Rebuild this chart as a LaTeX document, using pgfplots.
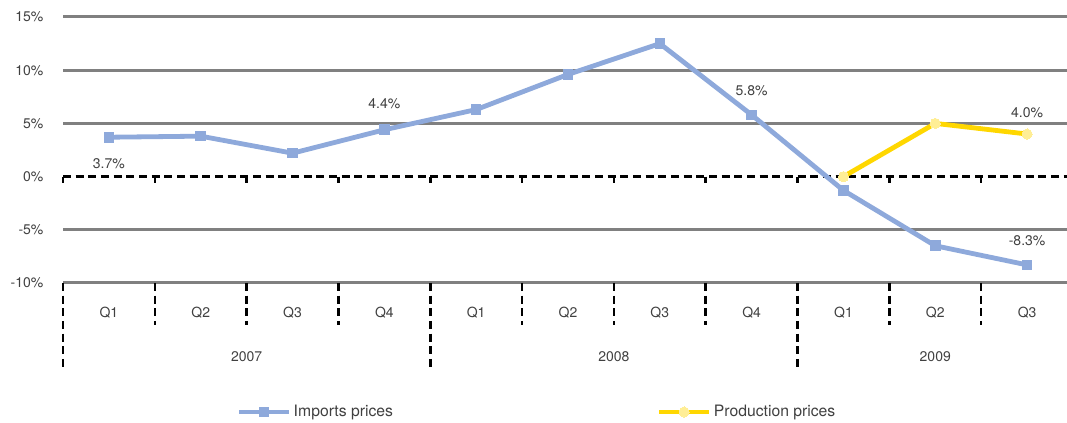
\documentclass[border=0pt]{standalone}
\usepackage{pgfplots}
\pgfplotsset{compat=1.18}
\usepackage{fontspec}
\setmainfont{TeX Gyre Heros}
\definecolor{impblue}{RGB}{142,169,219}
\definecolor{prodyel}{RGB}{255,215,0}
\definecolor{prodmark}{RGB}{255,238,150}
\definecolor{txt}{RGB}{64,64,64}
\definecolor{gridg}{RGB}{128,128,128}
\begin{document}
\fontsize{10.5}{12.6}\selectfont
\begin{tikzpicture}
\useasboundingbox (0,0) rectangle (800.25pt,317.25pt);
\begin{axis}[
  at={(47.25pt,105pt)}, anchor=south west,
  scale only axis, width=757.5pt, height=199.5pt,
  xmin=0, xmax=11, ymin=-10, ymax=15,
  clip=false,
  axis line style={draw=none},
  major tick length=0pt,
  ytick={-10,-5,0,5,10,15},
  yticklabel={\pgfmathprintnumber[assume math mode=true]{\tick}\%},
  yticklabel style={text=txt, xshift=-11pt},
  ymajorgrids,
  grid style={gridg, line width=2.25pt},
  xtick={0.5,1.5,...,10.5},
  xticklabels={Q1,Q2,Q3,Q4,Q1,Q2,Q3,Q4,Q1,Q2,Q3},
  xticklabel style={text=txt, anchor=center, yshift=-22.5pt},
  legend columns=2,
  legend cell align=left,
  legend style={at={(0.168,-0.485)}, anchor=west, draw=none, fill=none,
    text=txt, font=\fontsize{11.8}{14}\selectfont,
    /tikz/every even column/.append style={column sep=196pt}},
  legend image code/.code={
    \draw[#1, mark repeat=2, mark phase=2] plot coordinates {(0pt,0pt) (18.5pt,0pt) (37pt,0pt)};},
]
% zero line
\draw[white, line width=2.25pt] (axis cs:0,0) -- (axis cs:11,0);
\draw[black, line width=1.9pt, dash pattern=on 6pt off 3.5pt] (axis cs:0,0) -- (axis cs:11,0);
\pgfplotsinvokeforeach{0,1,2,3,4,5,6,7,8,9,10}{
  \draw[black, line width=1.9pt] (axis cs:#1,0) -- ++(0pt,-4.5pt);
}
% category separators
\pgfplotsinvokeforeach{1,2,3,5,6,7,9,10}{
  \draw[black, line width=1.9pt, dash pattern=on 6pt off 3.5pt] (axis cs:#1,-10) -- ++(0pt,-31.5pt);
}
\pgfplotsinvokeforeach{0,4,8}{
  \draw[black, line width=1.9pt, dash pattern=on 6pt off 3.5pt] (axis cs:#1,-10) -- ++(0pt,-65pt);
}
\addplot[impblue, line width=3.6pt, line join=round, mark=square*, mark size=3.6pt,
  mark options={solid, fill=impblue, draw=impblue, line width=0pt}]
  coordinates {(0.5,3.7) (1.5,3.8) (2.5,2.2) (3.5,4.4) (4.5,6.3) (5.5,9.6)
               (6.5,12.5) (7.5,5.8) (8.5,-1.3) (9.5,-6.5) (10.5,-8.3)};
\addlegendentry{Imports prices}
\addplot[prodyel, line width=3.6pt, line join=round, mark=*, mark size=3.8pt,
  mark options={solid, fill=prodmark, draw=prodmark, line width=0pt}]
  coordinates {(8.5,0) (9.5,5.0) (10.5,4.0)};
\addlegendentry{Production prices}
% year labels
\node[text=txt] at (axis cs:2,-10) [yshift=-55.5pt] {2007};
\node[text=txt] at (axis cs:6,-10) [yshift=-55.5pt] {2008};
\node[text=txt] at (axis cs:9.5,-10) [yshift=-55.5pt] {2009};
% data labels
\node[text=txt] at (axis cs:0.5,3.7) [yshift=-19.5pt] {3.7\%};
\node[text=txt] at (axis cs:3.5,4.4) [yshift=19.5pt] {4.4\%};
\node[text=txt] at (axis cs:7.5,5.8) [yshift=18pt] {5.8\%};
\node[text=txt] at (axis cs:10.5,-8.3) [yshift=18pt] {-8.3\%};
\node[text=txt] at (axis cs:10.5,4.0) [yshift=16pt] {4.0\%};
\end{axis}
\end{tikzpicture}
\end{document}
